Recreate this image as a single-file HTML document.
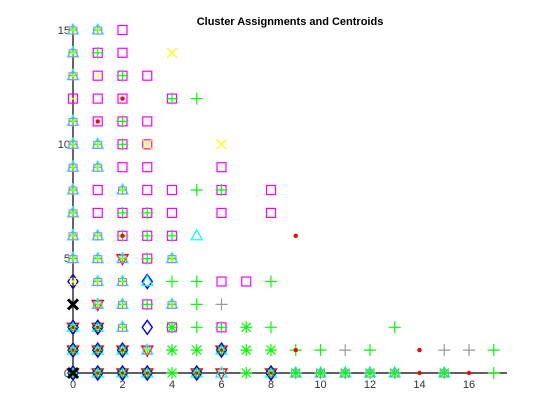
<!DOCTYPE html>
<html><head><meta charset="utf-8"><style>
html,body{margin:0;padding:0;background:#fff;}
svg{display:block}
text{font-family:"Liberation Sans",sans-serif;}
</style></head><body>
<svg width="560" height="420" viewBox="0 0 560 420" xmlns="http://www.w3.org/2000/svg">
<defs>
<g id="sq"><rect x="-4.5" y="-4.5" width="9" height="9" fill="none" stroke="#f0f" stroke-width="1.2"/></g>
<g id="pl"><path d="M-6 0H6M0 -6V6" stroke="#0f0" stroke-width="1.2"/></g>
<g id="gp"><path d="M-6 0H6M0 -6V6" stroke="#999" stroke-width="1.2"/></g>
<g id="st"><path d="M-6 0H6M0 -6V6M-4.5 -4.5L4.5 4.5M-4.5 4.5L4.5 -4.5" stroke="#0f0" stroke-width="1.2"/></g>
<g id="tr"><path d="M0 -6L5.5 4H-5.5Z" fill="none" stroke="#0ff" stroke-width="1.2"/></g>
<g id="di"><path d="M0 -7L5 0L0 7L-5 0Z" fill="none" stroke="#00f" stroke-width="1.4"/></g>
<g id="tv"><path d="M0 6L5.5 -4H-5.5Z" fill="none" stroke="#f00" stroke-width="1.4"/></g>
<g id="yx"><path d="M-5 -5L5 5M-5 5L5 -5" stroke="#ff0" stroke-width="1.2"/></g>
<g id="bx"><path d="M-5 -5L5 5M-5 5L5 -5" stroke="#000" stroke-width="3"/></g>
<g id="dt"><circle r="2.2" fill="#f00"/></g>
<g id="A"><use href="#tr"/><rect x="-4" y="-3" width="8" height="7" fill="none" stroke="#c6f" stroke-width="1"/><use href="#pl" transform="scale(0.8)"/><use href="#yx" transform="scale(0.5)"/></g>
<g id="B"><use href="#tv"/><use href="#tr"/><use href="#di"/><use href="#st" transform="scale(0.8)"/><use href="#dt" transform="scale(0.7)"/></g>
</defs>
<text x="290" y="25" font-size="11" font-weight="bold" text-anchor="middle">Cluster Assignments and Centroids</text>
<g stroke="#000" stroke-width="1.2" fill="none">
<path d="M73 28V373H507"/>
</g>
<g font-size="11" fill="#333" text-anchor="middle">
<text x="73" y="388">0</text><text x="122.5" y="388">2</text><text x="172" y="388">4</text><text x="221.5" y="388">6</text><text x="271" y="388">8</text><text x="320.5" y="388">10</text><text x="370" y="388">12</text><text x="419.5" y="388">14</text><text x="469" y="388">16</text>
</g>
<g font-size="11" fill="#333" text-anchor="end">
<text x="70" y="377">0</text><text x="70" y="262">5</text><text x="70" y="148">10</text><text x="70" y="34">15</text>
</g>
<g>
<!-- y15 Y=30 -->
<use href="#A" x="73" y="30"/><use href="#A" x="97.75" y="30"/><use href="#sq" x="122.5" y="30"/>
<!-- y14 Y=52.8 -->
<use href="#A" x="73" y="52.8"/><use href="#sq" x="97.75" y="52.8"/><use href="#pl" x="97.75" y="52.8"/><use href="#sq" x="122.5" y="52.8"/><use href="#yx" x="172" y="52.8"/>
<!-- y13 Y=75.7 -->
<use href="#A" x="73" y="75.7"/><use href="#sq" x="97.75" y="75.7"/><use href="#yx" x="97.75" y="75.7" transform="translate(97.75,75.7) scale(0.6) translate(-97.75,-75.7)"/><use href="#sq" x="122.5" y="75.7"/><use href="#pl" x="122.5" y="75.7"/><use href="#sq" x="147.25" y="75.7"/>
<!-- y12 Y=98.6 -->
<use href="#sq" x="73" y="98.6"/><use href="#yx" x="73" y="98.6" transform="translate(73,98.6) scale(0.6) translate(-73,-98.6)"/><use href="#sq" x="97.75" y="98.6"/><use href="#sq" x="122.5" y="98.6"/><use href="#dt" x="122.5" y="98.6"/><use href="#sq" x="172" y="98.6"/><use href="#pl" x="172" y="98.6"/><use href="#pl" x="196.75" y="98.6"/>
<!-- y11 Y=121.4 -->
<use href="#A" x="73" y="121.4"/><use href="#sq" x="97.75" y="121.4"/><use href="#dt" x="97.75" y="121.4"/><use href="#sq" x="122.5" y="121.4"/><use href="#pl" x="122.5" y="121.4"/><use href="#sq" x="147.25" y="121.4"/>
<!-- y10 Y=144.3 -->
<use href="#A" x="73" y="144.3"/><use href="#A" x="97.75" y="144.3"/><use href="#sq" x="122.5" y="144.3"/><use href="#pl" x="122.5" y="144.3"/><use href="#sq" x="147.25" y="144.3"/><use href="#yx" x="147.25" y="144.3"/><use href="#yx" x="221.5" y="144.3"/>
<!-- y9 Y=167.2 -->
<use href="#A" x="73" y="167.2"/><use href="#A" x="97.75" y="167.2"/><use href="#sq" x="122.5" y="167.2"/><use href="#sq" x="147.25" y="167.2"/><use href="#sq" x="221.5" y="167.2"/>
<!-- y8 Y=190 -->
<use href="#A" x="73" y="190"/><use href="#sq" x="97.75" y="190"/><use href="#A" x="122.5" y="190"/><use href="#sq" x="147.25" y="190"/><use href="#sq" x="172" y="190"/><use href="#pl" x="196.75" y="190"/><use href="#sq" x="221.5" y="190"/><use href="#pl" x="221.5" y="190"/><use href="#sq" x="271" y="190"/>
<!-- y7 Y=212.9 -->
<use href="#A" x="73" y="212.9"/><use href="#sq" x="97.75" y="212.9"/><use href="#sq" x="122.5" y="212.9"/><use href="#pl" x="122.5" y="212.9"/><use href="#sq" x="147.25" y="212.9"/><use href="#pl" x="147.25" y="212.9"/><use href="#sq" x="172" y="212.9"/><use href="#sq" x="221.5" y="212.9"/><use href="#sq" x="271" y="212.9"/>
<!-- y6 Y=235.8 -->
<use href="#A" x="73" y="235.8"/><use href="#A" x="97.75" y="235.8"/><use href="#sq" x="122.5" y="235.8"/><use href="#pl" x="122.5" y="235.8"/><use href="#dt" x="122.5" y="235.8"/><use href="#sq" x="147.25" y="235.8"/><use href="#pl" x="147.25" y="235.8"/><use href="#sq" x="172" y="235.8"/><use href="#pl" x="172" y="235.8"/><use href="#tr" x="196.75" y="235.8"/><use href="#dt" x="295.75" y="235.8"/>
<!-- y5 Y=258.6 -->
<use href="#A" x="73" y="258.6"/><use href="#A" x="97.75" y="258.6"/><use href="#tv" x="122.5" y="258.6"/><use href="#A" x="122.5" y="258.6"/><use href="#sq" x="147.25" y="258.6"/><use href="#pl" x="147.25" y="258.6"/><use href="#A" x="172" y="258.6"/>
<!-- y4 Y=281.5 -->
<use href="#di" x="73" y="281.5"/><use href="#yx" x="73" y="281.5"/><use href="#A" x="97.75" y="281.5"/><use href="#A" x="122.5" y="281.5"/><use href="#di" x="147.25" y="281.5"/><use href="#tr" x="147.25" y="281.5"/><use href="#pl" x="172" y="281.5"/><use href="#pl" x="196.75" y="281.5"/><use href="#sq" x="221.5" y="281.5"/><use href="#sq" x="246.25" y="281.5"/><use href="#pl" x="271" y="281.5"/>
<!-- y3 Y=304.4 -->
<use href="#bx" x="73" y="304.4"/><use href="#tv" x="97.75" y="304.4"/><use href="#A" x="97.75" y="304.4"/><use href="#A" x="122.5" y="304.4"/><use href="#sq" x="147.25" y="304.4"/><use href="#pl" x="147.25" y="304.4"/><use href="#A" x="172" y="304.4"/><use href="#pl" x="196.75" y="304.4"/><use href="#gp" x="221.5" y="304.4"/>
<!-- y2 Y=327.3 -->
<use href="#B" x="73" y="327.3"/><use href="#B" x="97.75" y="327.3"/><use href="#A" x="122.5" y="327.3"/><use href="#di" x="147.25" y="327.3"/><use href="#sq" x="172" y="327.3"/><use href="#st" x="172" y="327.3"/><use href="#pl" x="196.75" y="327.3"/><use href="#sq" x="221.5" y="327.3"/><use href="#pl" x="221.5" y="327.3"/><use href="#st" x="246.25" y="327.3"/><use href="#pl" x="271" y="327.3"/><use href="#pl" x="394.75" y="327.3"/>
<!-- y1 Y=350.1 -->
<use href="#B" x="73" y="350.1"/><use href="#B" x="97.75" y="350.1"/><use href="#B" x="122.5" y="350.1"/><use href="#tv" x="147.25" y="350.1"/><use href="#A" x="147.25" y="350.1"/><use href="#st" x="172" y="350.1"/><use href="#st" x="196.75" y="350.1"/><use href="#B" x="221.5" y="350.1"/><use href="#st" x="246.25" y="350.1"/><use href="#st" x="271" y="350.1"/><use href="#pl" x="295.75" y="350.1"/><use href="#dt" x="295.75" y="350.1"/><use href="#pl" x="320.5" y="350.1"/><use href="#gp" x="345.25" y="350.1"/><use href="#pl" x="370" y="350.1"/><use href="#dt" x="419.5" y="350.1"/><use href="#gp" x="444.25" y="350.1"/><use href="#gp" x="469" y="350.1"/><use href="#pl" x="493.75" y="350.1"/>
<!-- y0 Y=373 -->
<use href="#B" x="73" y="373"/><use href="#bx" x="73" y="373"/><use href="#B" x="97.75" y="373"/><use href="#B" x="122.5" y="373"/><use href="#B" x="147.25" y="373"/><use href="#st" x="172" y="373"/><use href="#B" x="196.75" y="373"/><use href="#tv" x="221.5" y="373"/><use href="#tr" x="221.5" y="373"/><use href="#st" x="246.25" y="373"/><use href="#B" x="271" y="373"/><use href="#A" x="295.75" y="373"/><use href="#st" x="295.75" y="373"/><use href="#A" x="320.5" y="373"/><use href="#st" x="320.5" y="373"/><use href="#A" x="345.25" y="373"/><use href="#st" x="345.25" y="373"/><use href="#A" x="370" y="373"/><use href="#st" x="370" y="373"/><use href="#A" x="394.75" y="373"/><use href="#st" x="394.75" y="373"/><use href="#dt" x="419.5" y="373"/><use href="#A" x="444.25" y="373"/><use href="#st" x="444.25" y="373"/><use href="#dt" x="469" y="373"/><use href="#pl" x="493.75" y="373"/>
</g>
</svg>
</body></html>
